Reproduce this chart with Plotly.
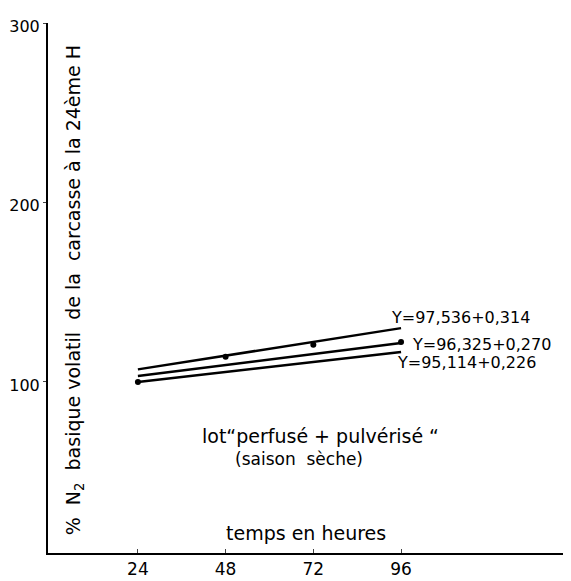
import plotly.graph_objects as go

# regression lines, read at 24 h and 96 h
line_x = [24, 96]
top_line = [107.0, 130.0]
mid_line = [103.3, 121.7]
low_line = [100.0, 116.7]

# measured points
hours = [24, 48, 72, 96]
n2_values = [100.0, 114.0, 120.7, 122.3]

equations = ["Y=97,536+0,314", "Y=96,325+0,270", "Y=95,114+0,226"]
x_ticks = [24, 48, 72, 96]
y_ticks = [100, 200, 300]

FONT = "DejaVu Sans"

fig = go.Figure()

for ys in [top_line, mid_line, low_line]:
    fig.add_trace(go.Scatter(
        x=line_x, y=ys, mode="lines",
        line=dict(color="black", width=2.5),
        showlegend=False, hoverinfo="skip"
    ))

fig.add_trace(go.Scatter(
    x=hours, y=n2_values, mode="markers",
    marker=dict(color="black", size=6),
    showlegend=False
))

# equation labels near the right end of each line
eq_pos = [(112.4, 135.7), (118.0, 120.6), (113.8, 110.6)]
for txt, (ex, ey) in zip(equations, eq_pos):
    fig.add_annotation(x=ex, y=ey, text=txt, showarrow=False,
                       font=dict(family=FONT, size=16, color="black"))

fig.add_annotation(x=6.5, y=151, text="%  N<sub>2</sub>  basique volatil  de la  carcasse à la 24ème H",
                   textangle=-90, showarrow=False,
                   font=dict(family=FONT, size=19, color="black"))

fig.add_annotation(x=74, y=69.8, text="lot\u201cperfusé + pulvérisé \u201c", showarrow=False,
                   font=dict(family=FONT, size=19, color="black"))
fig.add_annotation(x=68, y=57.3, text="(saison  sèche)", showarrow=False,
                   font=dict(family=FONT, size=17, color="black"))
fig.add_annotation(x=70, y=16, text="temps en heures", showarrow=False,
                   font=dict(family=FONT, size=19, color="black"))

fig.update_xaxes(
    range=[-0.6, 142.5], tickvals=x_ticks, ticks="inside", ticklen=4,
    showline=True, linecolor="black", linewidth=2, showgrid=False,
    zeroline=False, automargin=False,
    tickfont=dict(family=FONT, size=17, color="black")
)
fig.update_yaxes(
    range=[4.7, 300], tickvals=y_ticks, ticks="outside", ticklen=3,
    showline=True, linecolor="black", linewidth=2, showgrid=False,
    zeroline=False, automargin=False, ticklabelshift=3,
    tickfont=dict(family=FONT, size=16, color="black")
)

# the page body adds an 8px offset, so margins are trimmed to compensate
fig.update_layout(
    width=571, height=581,
    margin=dict(l=40, r=8, t=15, b=36),
    plot_bgcolor="white", paper_bgcolor="white",
)

fig.write_html("out.html")
